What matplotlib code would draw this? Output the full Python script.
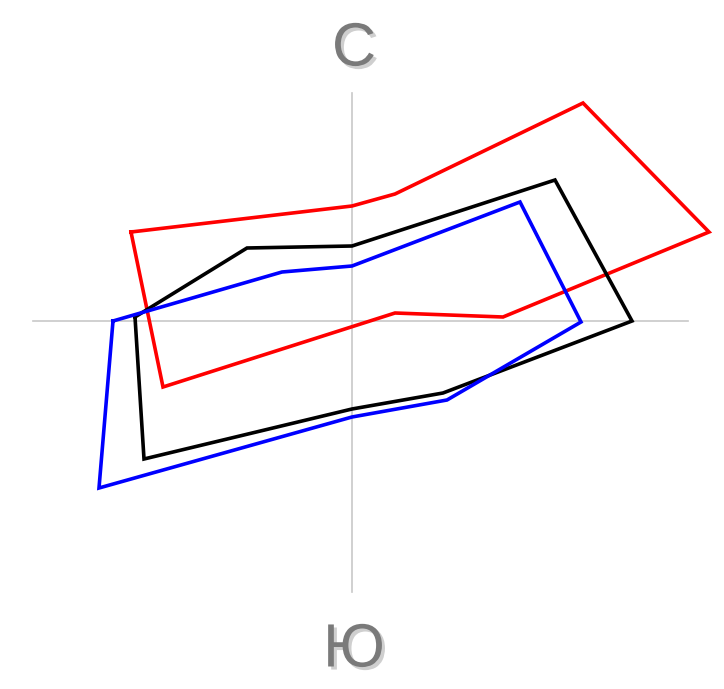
import matplotlib
matplotlib.use("Agg")
import matplotlib.pyplot as plt
import matplotlib.patheffects as pe

# Polygon vertices (x = east, y = north)
red_x = [-221, 0, 43, 231, 357, 151, 43, -189]
red_y = [89, 115, 127, 218, 89, 4, 8, -66]

black_x = [-217, -105, 0, 203, 280, 91, 0, -208]
black_y = [4, 73, 75, 141, 0, -72, -88, -138]

blue_x = [-239, -70, 0, 168, 229, 95, 0, -253]
blue_y = [0, 49, 55, 119, -1, -79, -96, -167]

axis_h = [-319, 336]
axis_v = [-271, 228]
north_label = "С"
south_label = "Ю"

fig = plt.figure(figsize=(7.24, 6.89), dpi=100)
ax = fig.add_axes([0, 0, 1, 1])
ax.set_xlim(-352, 372)
ax.set_ylim(-368, 321)
ax.axis("off")

ax.plot(axis_h, [0, 0], color="#c8c8c8", lw=1.2, zorder=1)
ax.plot([0, 0], axis_v, color="#c8c8c8", lw=1.2, zorder=1)

for xs, ys, c in [(red_x, red_y, "#ff0000"), (black_x, black_y, "#000000"), (blue_x, blue_y, "#0000ff")]:
    ax.plot(xs + xs[:1], ys + ys[:1], color=c, lw=2.6, solid_joinstyle="miter", zorder=3)

shadow = [pe.SimplePatchShadow(offset=(2.2, -2.2), shadow_rgbFace="#cfcfcf", alpha=1.0), pe.Normal()]
for txt, y in [(north_label, 271), (south_label, -330)]:
    ax.text(2, y, txt, fontsize=44, family="Liberation Sans", color="#7a7a7a",
            ha="center", va="center", zorder=2, path_effects=shadow)

fig.savefig("out.png", dpi=100)
